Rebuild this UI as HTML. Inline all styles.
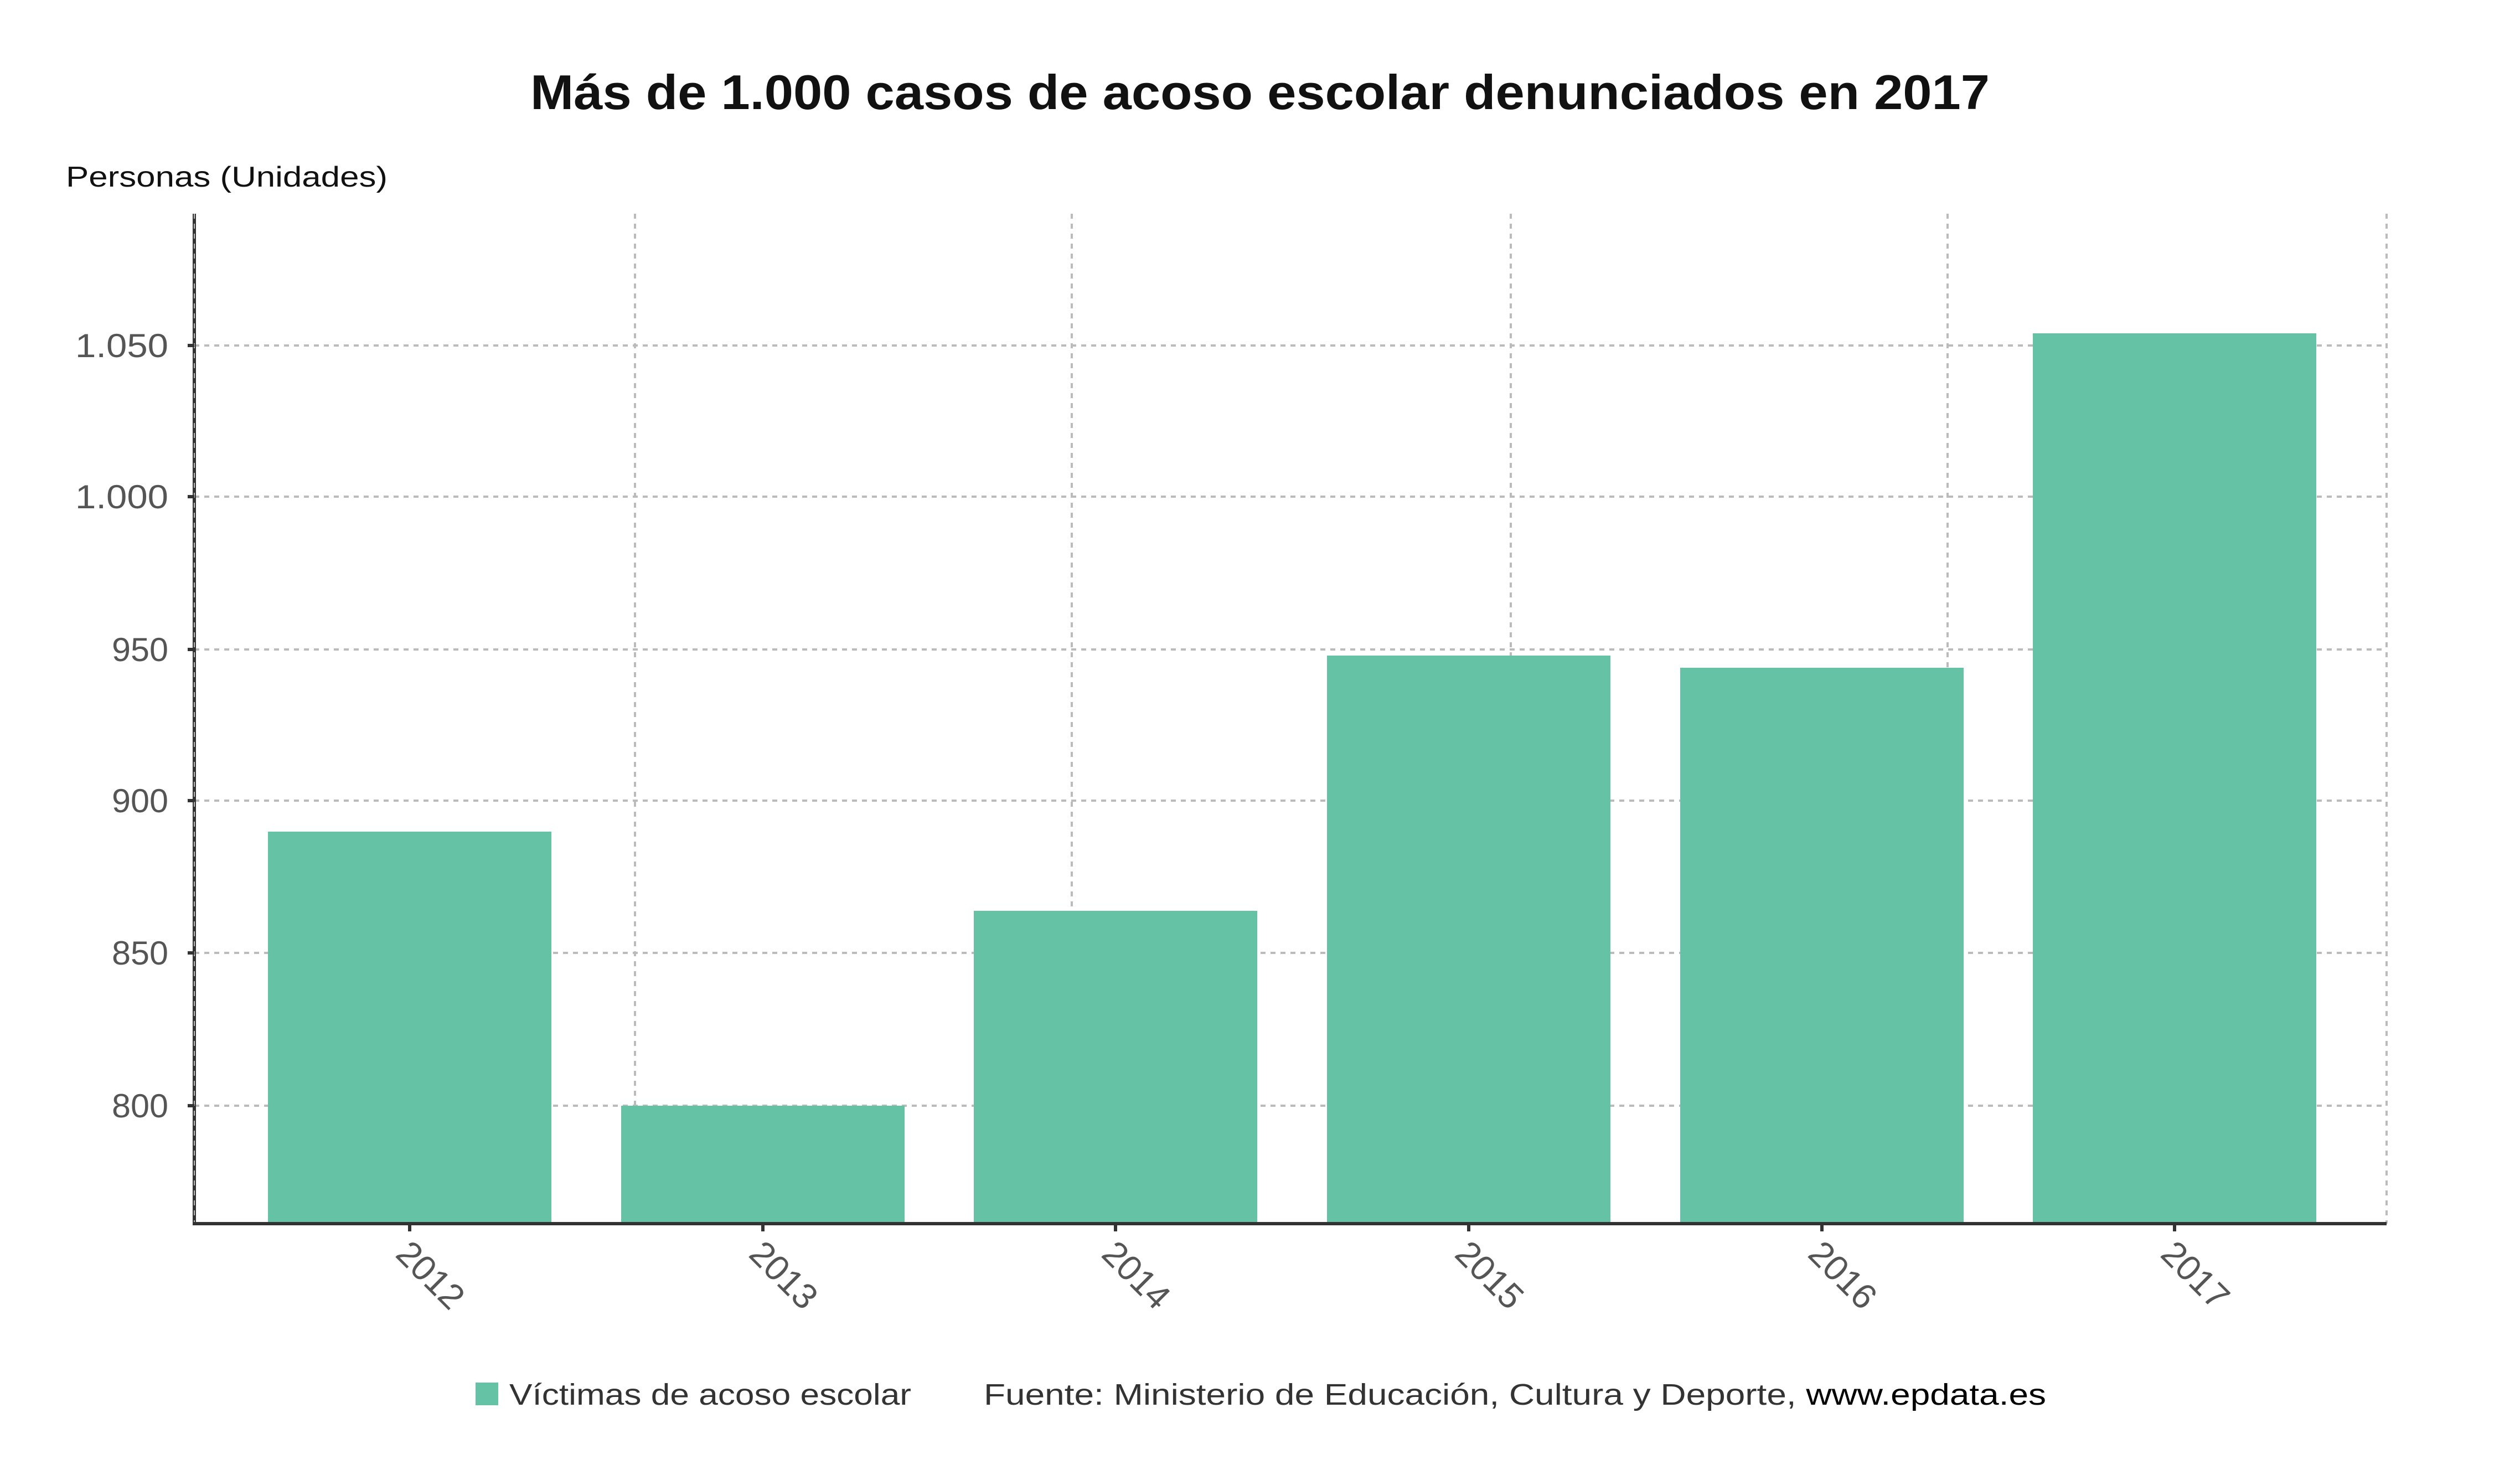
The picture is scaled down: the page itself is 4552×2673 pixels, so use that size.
<!DOCTYPE html>
<html><head><meta charset="utf-8"><style>html,body{margin:0;padding:0;background:#fff}svg{display:block}</style></head>
<body>
<svg width="4552" height="2673" viewBox="0 0 4552 2673" xmlns="http://www.w3.org/2000/svg" font-family="'Liberation Sans', 'DejaVu Sans', sans-serif">
<rect width="4552" height="2673" fill="#fff"/>
<text x="2276" y="197" text-anchor="middle" font-size="88" font-weight="bold" fill="#111" textLength="2636" lengthAdjust="spacingAndGlyphs">Más de 1.000 casos de acoso escolar denunciados en 2017</text>
<text x="119" y="337" font-size="52" fill="#111" textLength="581" lengthAdjust="spacingAndGlyphs">Personas (Unidades)</text>
<g stroke="#bbb" stroke-width="4" stroke-dasharray="9 9">
<line x1="351" y1="624" x2="4311" y2="624"/>
<line x1="351" y1="897" x2="4311" y2="897"/>
<line x1="351" y1="1173" x2="4311" y2="1173"/>
<line x1="351" y1="1446" x2="4311" y2="1446"/>
<line x1="351" y1="1721" x2="4311" y2="1721"/>
<line x1="351" y1="1997" x2="4311" y2="1997"/>
<line x1="1147" y1="386" x2="1147" y2="2210"/>
<line x1="1936" y1="386" x2="1936" y2="2210"/>
<line x1="2729" y1="386" x2="2729" y2="2210"/>
<line x1="3518" y1="386" x2="3518" y2="2210"/>
<line x1="4311" y1="386" x2="4311" y2="2210"/>
</g>
<g fill="#66c2a5">
<rect x="484" y="1502" width="512" height="708"/>
<rect x="1122" y="1997" width="512" height="213"/>
<rect x="1759" y="1645" width="512" height="565"/>
<rect x="2397" y="1184" width="512" height="1026"/>
<rect x="3035" y="1206" width="512" height="1004"/>
<rect x="3672" y="602" width="512" height="1608"/>
</g>
<line x1="351" y1="386" x2="351" y2="2212" stroke="#333" stroke-width="6"/>
<line x1="351" y1="386" x2="351" y2="2212" stroke="#bbb" stroke-width="2" stroke-dasharray="9 9"/>
<line x1="348" y1="2210" x2="4311" y2="2210" stroke="#333" stroke-width="6"/>
<g stroke="#333" stroke-width="6">
<line x1="740" y1="2210" x2="740" y2="2224"/>
<line x1="1378" y1="2210" x2="1378" y2="2224"/>
<line x1="2015" y1="2210" x2="2015" y2="2224"/>
<line x1="2653" y1="2210" x2="2653" y2="2224"/>
<line x1="3291" y1="2210" x2="3291" y2="2224"/>
<line x1="3928" y1="2210" x2="3928" y2="2224"/>
<line x1="339" y1="624" x2="351" y2="624"/>
<line x1="339" y1="897" x2="351" y2="897"/>
<line x1="339" y1="1173" x2="351" y2="1173"/>
<line x1="339" y1="1446" x2="351" y2="1446"/>
<line x1="339" y1="1721" x2="351" y2="1721"/>
<line x1="339" y1="1997" x2="351" y2="1997"/>
</g>
<g font-size="60" fill="#555" text-anchor="end">
<text x="304" y="645" textLength="168" lengthAdjust="spacingAndGlyphs">1.050</text>
<text x="304" y="918" textLength="168" lengthAdjust="spacingAndGlyphs">1.000</text>
<text x="304" y="1194" textLength="102" lengthAdjust="spacingAndGlyphs">950</text>
<text x="304" y="1467" textLength="102" lengthAdjust="spacingAndGlyphs">900</text>
<text x="304" y="1742" textLength="102" lengthAdjust="spacingAndGlyphs">850</text>
<text x="304" y="2018" textLength="102" lengthAdjust="spacingAndGlyphs">800</text>
</g>
<g font-size="64" fill="#555">
<text transform="translate(712,2268) rotate(45)">2012</text>
<text transform="translate(1350,2268) rotate(45)">2013</text>
<text transform="translate(1987,2268) rotate(45)">2014</text>
<text transform="translate(2625,2268) rotate(45)">2015</text>
<text transform="translate(3263,2268) rotate(45)">2016</text>
<text transform="translate(3900,2268) rotate(45)">2017</text>
</g>
<rect x="859" y="2497" width="41" height="41" fill="#66c2a5"/>
<text x="920" y="2537" font-size="54" fill="#333" textLength="726" lengthAdjust="spacingAndGlyphs">Víctimas de acoso escolar</text>
<text x="1777" y="2537" font-size="54" fill="#333" textLength="1919" lengthAdjust="spacingAndGlyphs">Fuente: Ministerio de Educación, Cultura y Deporte, <tspan fill="#000">www.epdata.es</tspan></text>
</svg>
</body></html>
